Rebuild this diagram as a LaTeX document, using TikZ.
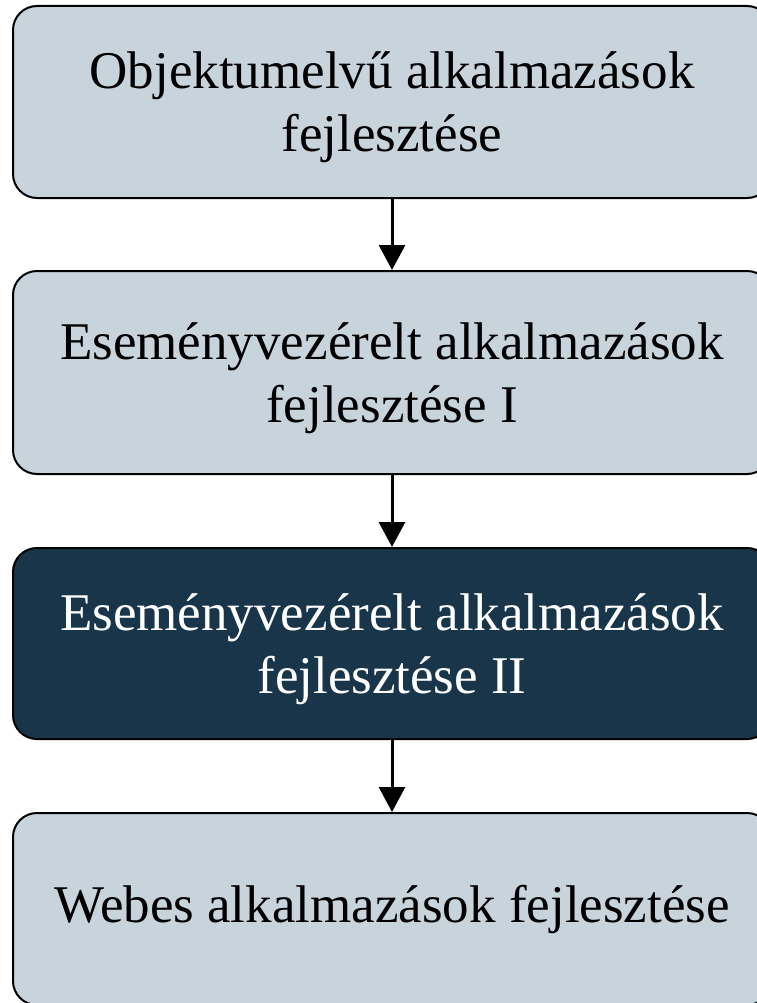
\documentclass[tikz,border=0pt]{standalone}
\usepackage{fontspec}
\setmainfont{Liberation Serif}
\usetikzlibrary{arrows.meta}
\definecolor{lightbox}{HTML}{C8D4DC}
\definecolor{darkbox}{HTML}{18354A}
\tikzset{
  stagebox/.style={draw=black, line width=2pt, rounded corners=24pt, fill=lightbox,
    minimum width=758pt, align=center, inner sep=0pt,
    font=\fontsize{53}{63}\selectfont, text=black},
  twoline/.style={text depth=0pt},
  darkstage/.style={stagebox, fill=darkbox, text=white},
  flowarrow/.style={line width=3pt, -{Triangle[length=25pt,width=26pt]}}
}
\begin{document}
\begin{tikzpicture}[x=1pt,y=-1pt]
\useasboundingbox (0,0) rectangle (756,1003);
\node[stagebox, twoline, minimum height=192pt] (b1) at (392,102) {Objektumelvű alkalmazások\\fejlesztése};
\node[stagebox, twoline, minimum height=203pt] (b2) at (392,372.5) {Eseményvezérelt alkalmazások\\fejlesztése I};
\node[darkstage, twoline, minimum height=191pt] (b3) at (392,643.5) {Eseményvezérelt alkalmazások\\fejlesztése II};
\node[stagebox, minimum height=192pt] (b4) at (392,909) {Webes alkalmazások fejlesztése};
\draw[flowarrow] (b1.south) -- (b2.north);
\draw[flowarrow] (b2.south) -- (b3.north);
\draw[flowarrow] (b3.south) -- (b4.north);
\end{tikzpicture}
\end{document}
